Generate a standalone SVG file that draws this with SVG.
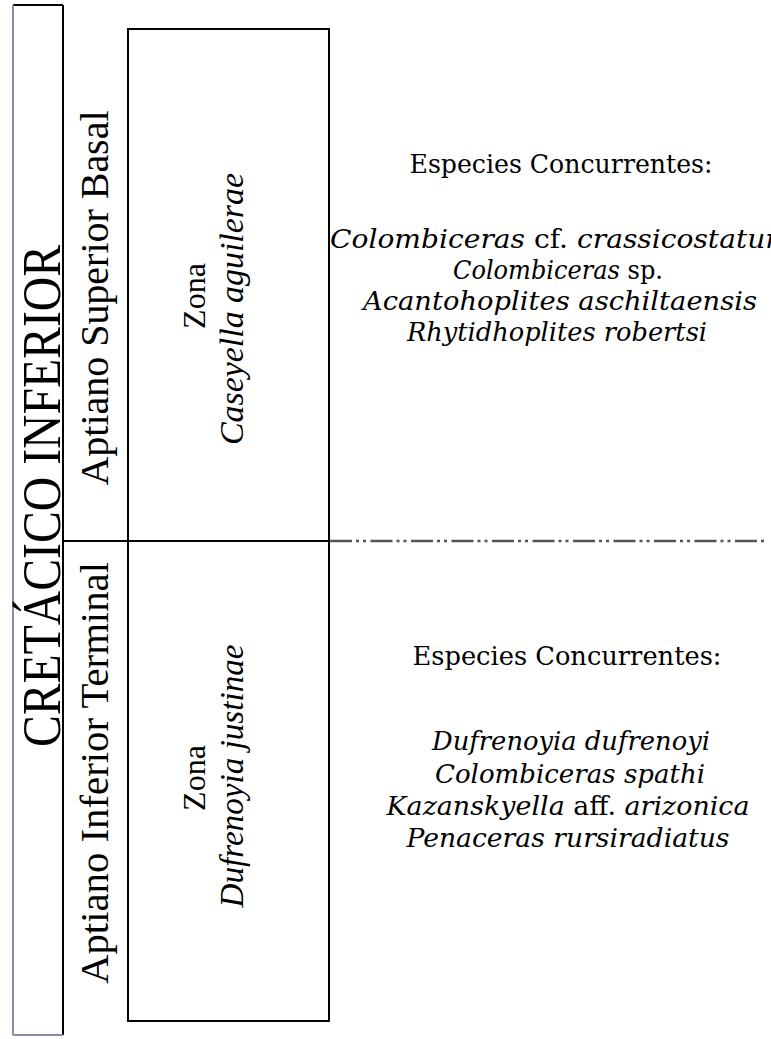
<svg xmlns="http://www.w3.org/2000/svg" width="771" height="1039" viewBox="0 0 771 1039">
<style>
text{font-family:"Liberation Serif","Times New Roman",serif;fill:#000}
.v{font-size:40px}
.z{font-size:32px}
.zi{font-size:33px;font-style:italic}
.h{font-family:"DejaVu Serif","Liberation Serif",serif;font-size:26px}
.i{font-style:italic}
.ln{stroke:#000;stroke-width:2;fill:none}
</style>
<rect width="771" height="1039" fill="#fff"/>
<g id="periodo">
<line x1="13" y1="5" x2="63" y2="5" class="ln" stroke-width="1.5"/>
<line x1="63" y1="5" x2="63" y2="1035" class="ln" stroke-width="1.5"/>
<line x1="13" y1="5" x2="13" y2="1035" stroke="#8a8aae" stroke-width="2"/>
<line x1="13" y1="1035" x2="63" y2="1035" stroke="#8a8aae" stroke-width="2"/>
<text transform="translate(60,496) rotate(-90)" text-anchor="middle" font-size="54" textLength="502" lengthAdjust="spacingAndGlyphs">CRETÁCICO INFERIOR</text>
</g>
<g id="piso-superior">
<text class="v" transform="translate(108,298) rotate(-90)" text-anchor="middle" textLength="375" lengthAdjust="spacingAndGlyphs">Aptiano Superior Basal</text>
</g>
<g id="piso-inferior">
<text class="v" transform="translate(108,773) rotate(-90)" text-anchor="middle" textLength="422" lengthAdjust="spacingAndGlyphs">Aptiano Inferior Terminal</text>
</g>
<g id="zonas">
<rect x="128" y="29" width="201" height="992" class="ln"/>
</g>
<g id="zona-superior">
<text class="z" transform="translate(205,296) rotate(-90)" text-anchor="middle">Zona</text>
<text class="zi" transform="translate(243,309) rotate(-90)" text-anchor="middle" textLength="272" lengthAdjust="spacingAndGlyphs">Caseyella aguilerae</text>
</g>
<g id="zona-inferior">
<text class="z" transform="translate(205,778) rotate(-90)" text-anchor="middle">Zona</text>
<text class="zi" transform="translate(243,776) rotate(-90)" text-anchor="middle" textLength="263" lengthAdjust="spacingAndGlyphs">Dufrenoyia justinae</text>
</g>
<g id="conectores">
<line x1="63" y1="541" x2="330" y2="541" class="ln"/>
<line x1="330" y1="541" x2="766" y2="541" stroke="#555" stroke-width="2.5" stroke-dasharray="22 4 3 4 3 4.5"/>
</g>
<g id="especies-superior" text-anchor="middle">
<text class="h" x="561" y="173" textLength="303" lengthAdjust="spacingAndGlyphs">Especies Concurrentes:</text>
<text class="h" x="561" y="248" textLength="462" lengthAdjust="spacingAndGlyphs"><tspan class="i">Colombiceras</tspan> cf. <tspan class="i">crassicostatum</tspan></text>
<text class="h" x="558" y="279" textLength="210" lengthAdjust="spacingAndGlyphs"><tspan class="i">Colombiceras</tspan> sp.</text>
<text class="h i" x="560" y="310" textLength="394" lengthAdjust="spacingAndGlyphs">Acantohoplites aschiltaensis</text>
<text class="h i" x="557" y="341" textLength="300" lengthAdjust="spacingAndGlyphs">Rhytidhoplites robertsi</text>
</g>
<g id="especies-inferior" text-anchor="middle">
<text class="h" x="567" y="665" textLength="309" lengthAdjust="spacingAndGlyphs">Especies Concurrentes:</text>
<text class="h i" x="571" y="750" textLength="278" lengthAdjust="spacingAndGlyphs">Dufrenoyia dufrenoyi</text>
<text class="h i" x="570" y="783" textLength="270" lengthAdjust="spacingAndGlyphs">Colombiceras spathi</text>
<text class="h" x="568" y="815" textLength="363" lengthAdjust="spacingAndGlyphs"><tspan class="i">Kazanskyella</tspan> aff. <tspan class="i">arizonica</tspan></text>
<text class="h i" x="568" y="847" textLength="323" lengthAdjust="spacingAndGlyphs">Penaceras rursiradiatus</text>
</g>
</svg>
